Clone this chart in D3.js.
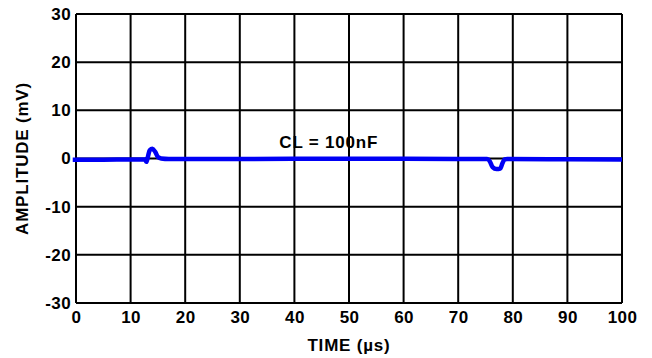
<!DOCTYPE html>
<html>
<head>
<meta charset="utf-8">
<script src="https://cdn.jsdelivr.net/npm/d3@7"></script>
<style>
  html, body { margin: 0; padding: 0; background: #fff; }
  svg { display: block; }
  text { font-family: "Liberation Sans", Arial, sans-serif; font-weight: bold; fill: #000; }
</style>
</head>
<body>
<svg id="chart" width="652" height="358"></svg>
<script>
// Output transient (mV) versus time (µs), CL = 100nF
const timeUs = [-0.6, 5, 10, 12.6, 12.9, 13.2, 13.5, 14.0, 14.5, 15.0, 15.6, 17, 30, 50, 70, 75.3, 75.8, 76.3, 77.0, 77.7, 78.1, 78.5, 79, 90, 100];
const ampMv  = [-0.25, -0.25, -0.2, -0.2, -0.7, 0.5, 1.7, 2.0, 1.4, 0.3, 0.0, -0.1, -0.1, -0.05, -0.1, -0.1, -0.6, -1.8, -2.2, -2.1, -1.0, -0.2, -0.1, -0.15, -0.2];

const xTicks = [0, 10, 20, 30, 40, 50, 60, 70, 80, 90, 100];
const yTicks = [-30, -20, -10, 0, 10, 20, 30];

const xTitle = "TIME (µs)";
const yTitle = "AMPLITUDE (mV)";
const annotation = { t: 46.3, v: 2.2, text: "CL = 100nF" };

const svg = d3.select("#chart");
const plot = { left: 76, right: 622, top: 14, bottom: 303 };
const fontSize = 17;

const x = d3.scaleLinear().domain([0, 100]).range([plot.left, plot.right]);
const y = d3.scaleLinear().domain([-30, 30]).range([plot.bottom, plot.top]);

// grid
const grid = svg.append("g").attr("stroke", "#000").attr("stroke-width", 2);
grid.selectAll("line.v").data(xTicks).join("line")
  .attr("x1", d => x(d)).attr("x2", d => x(d))
  .attr("y1", plot.top).attr("y2", plot.bottom);
grid.selectAll("line.h").data(yTicks).join("line")
  .attr("y1", d => y(d)).attr("y2", d => y(d))
  .attr("x1", plot.left).attr("x2", plot.right);

// tick labels with a plain hyphen for negatives
const fmt = d => String(d);

const xAxis = svg.append("g")
  .attr("transform", `translate(0,${plot.bottom})`)
  .call(d3.axisBottom(x).tickValues(xTicks).tickSize(0).tickPadding(0).tickFormat(fmt));
xAxis.select(".domain").remove();
xAxis.selectAll("text").attr("dy", null).attr("y", 20);

const yAxis = svg.append("g")
  .attr("transform", `translate(${plot.left},0)`)
  .call(d3.axisLeft(y).tickValues(yTicks).tickSize(0).tickPadding(5).tickFormat(fmt));
yAxis.select(".domain").remove();

svg.selectAll(".tick text")
  .attr("font-family", "Liberation Sans, Arial, sans-serif")
  .attr("font-weight", "bold")
  .attr("font-size", fontSize)
  .attr("letter-spacing", 0.4)
  .attr("fill", "#000");

// trace
const line = d3.line().x((d, i) => x(timeUs[i])).y(d => y(d)).curve(d3.curveMonotoneX);
svg.append("path")
  .datum(ampMv)
  .attr("d", line)
  .attr("fill", "none")
  .attr("stroke", "#0000f5")
  .attr("stroke-width", 4.5)
  .attr("stroke-linejoin", "round");

// annotation
svg.append("text")
  .attr("x", x(annotation.t)).attr("y", y(annotation.v))
  .attr("text-anchor", "middle")
  .attr("font-size", fontSize)
  .attr("letter-spacing", 0.8)
  .text(annotation.text);

// titles
svg.append("text")
  .attr("x", (plot.left + plot.right) / 2).attr("y", 351)
  .attr("text-anchor", "middle").attr("font-size", fontSize)
  .attr("letter-spacing", 0.8)
  .text(xTitle);
svg.append("text")
  .attr("transform", `translate(28,${(plot.top + plot.bottom) / 2}) rotate(-90)`)
  .attr("text-anchor", "middle").attr("font-size", fontSize)
  .attr("letter-spacing", 0.8)
  .text(yTitle);
</script>
</body>
</html>
